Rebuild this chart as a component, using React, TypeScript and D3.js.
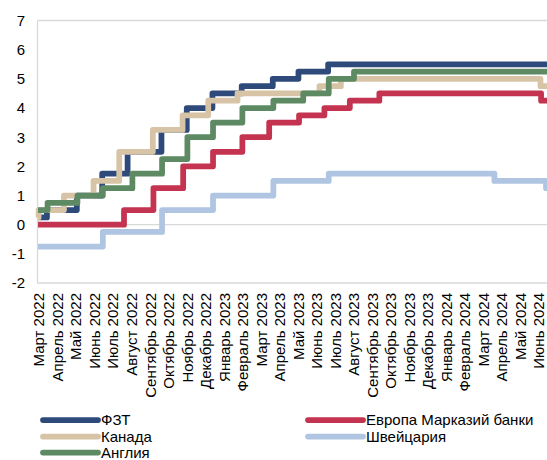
import React from "react";
import * as d3 from "d3";

// Month labels along the category axis (one per month, March 2022 – June 2024)
const monthLabels = [
  "Март 2022", "Апрель 2022", "Май 2022", "Июнь 2022", "Июль 2022", "Август 2022",
  "Сентябрь 2022", "Октябрь 2022", "Ноябрь 2022", "Декабрь 2022", "Январь 2023",
  "Февраль 2023", "Март 2023", "Апрель 2023", "Май 2023", "Июнь 2023", "Июль 2023",
  "Август 2023", "Сентябрь 2023", "Октябрь 2023", "Ноябрь 2023", "Декабрь 2023",
  "Январь 2024", "Февраль 2024", "Март 2024", "Апрель 2024", "Май 2024", "Июнь 2024",
];

const yTicks = [-2, -1, 0, 1, 2, 3, 4, 5, 6, 7];

// Policy rate changes: [date the rate takes effect, rate %]
const fedRates: [string, number][] = [
  ["2022-03-01", 0.25], ["2022-03-16", 0.5], ["2022-05-04", 1.0], ["2022-06-15", 1.75],
  ["2022-07-27", 2.5], ["2022-09-21", 3.25], ["2022-11-02", 4.0], ["2022-12-14", 4.5],
  ["2023-02-01", 4.75], ["2023-03-22", 5.0], ["2023-05-03", 5.25], ["2023-06-21", 5.5],
];
const ecbRates: [string, number][] = [
  ["2022-03-01", 0], ["2022-07-21", 0.5], ["2022-09-08", 1.25], ["2022-10-27", 2.0],
  ["2022-12-15", 2.5], ["2023-02-02", 3.0], ["2023-03-16", 3.5], ["2023-05-04", 3.75],
  ["2023-06-15", 4.0], ["2023-07-27", 4.25], ["2023-09-14", 4.5], ["2024-06-06", 4.25],
];
const canadaRates: [string, number][] = [
  ["2022-03-01", 0.25], ["2022-03-02", 0.5], ["2022-04-13", 1.0], ["2022-06-01", 1.5],
  ["2022-07-13", 2.5], ["2022-09-07", 3.25], ["2022-10-26", 3.75], ["2022-12-07", 4.25],
  ["2023-01-25", 4.5], ["2023-06-07", 4.75], ["2023-07-12", 5.0], ["2024-06-05", 4.75],
];
const swissRates: [string, number][] = [
  ["2022-03-01", -0.75], ["2022-06-16", -0.25], ["2022-09-22", 0.5], ["2022-12-15", 1.0],
  ["2023-03-23", 1.5], ["2023-06-22", 1.75], ["2024-03-21", 1.5], ["2024-06-14", 1.25],
];
const ukRates: [string, number][] = [
  ["2022-03-01", 0.5], ["2022-03-17", 0.75], ["2022-05-05", 1.0], ["2022-06-16", 1.25],
  ["2022-08-04", 1.75], ["2022-09-22", 2.25], ["2022-11-03", 3.0], ["2022-12-15", 3.5],
  ["2023-02-02", 4.0], ["2023-03-23", 4.25], ["2023-05-11", 4.5], ["2023-06-22", 5.0],
  ["2023-08-03", 5.25],
];

const seriesNames = ["ФЗТ", "Европа Марказий банки", "Канада", "Швейцария", "Англия"];
const seriesData = [fedRates, ecbRates, canadaRates, swissRates, ukRates];
const seriesColors = ["#2E4A7B", "#C4334F", "#D7C4A6", "#AFC5E2", "#5D8A63"];

const END_DATE = "2024-06-30";

const W = 547;
const H = 460;
const FONT = "'Liberation Sans', Arial, sans-serif";

// Fractional month position counted from March 2022
function monthPos(s: string): number {
  const [y, m, d] = s.split("-").map(Number);
  const days = new Date(y, m, 0).getDate();
  return (y - 2022) * 12 + (m - 3) + (d - 1) / days;
}

export default function App() {
  const x = d3.scaleLinear().domain([0, monthLabels.length - 1]).range([38, 538]);
  const y = d3.scaleLinear().domain([-2, 7]).range([283, 20.5]);

  const line = d3
    .line<[number, number]>()
    .x((d) => x(d[0]))
    .y((d) => y(d[1]))
    .curve(d3.curveStepAfter);

  const paths = seriesData.map((s) => {
    const pts: [number, number][] = s.map(([dt, v]) => [monthPos(dt), v]);
    pts.push([monthPos(END_DATE), s[s.length - 1][1]]);
    return line(pts) || "";
  });

  const plotLeft = x(0) - 0.5;
  const plotTop = y(7);
  const plotBottom = y(-2);
  const grid = "#D9D9D9";

  const legendRows = [
    { idx: 0, col: 0, row: 0 },
    { idx: 1, col: 1, row: 0 },
    { idx: 2, col: 0, row: 1 },
    { idx: 3, col: 1, row: 1 },
    { idx: 4, col: 0, row: 2 },
  ];
  const legendCols = [43, 308];
  const legendY = [420, 436.5, 452.5];

  return (
    <svg
      width={W}
      height={H}
      style={{ position: "absolute", left: 0, top: 0, background: "#fff" }}
      fontFamily={FONT}
    >
      {/* plot frame */}
      <line x1={plotLeft} x2={W} y1={plotTop} y2={plotTop} stroke={grid} strokeWidth={1.3} />
      <line x1={plotLeft} x2={W} y1={plotBottom} y2={plotBottom} stroke={grid} strokeWidth={1.3} />
      <line x1={plotLeft} x2={plotLeft} y1={plotTop} y2={plotBottom} stroke={grid} strokeWidth={1.3} />
      <line x1={plotLeft} x2={W} y1={y(0)} y2={y(0)} stroke={grid} strokeWidth={1.3} />

      {/* y axis labels */}
      {yTicks.map((t) => (
        <text key={t} x={25} y={y(t)} dy="0.36em" textAnchor="end" fontSize={15} fill="#000">
          {t}
        </text>
      ))}

      {/* x axis labels */}
      {monthLabels.map((m, i) => (
        <text
          key={m}
          transform={`translate(${x(i) + 1},293) rotate(-90)`}
          dy="0.36em"
          textAnchor="end"
          fontSize={15}
          fill="#000"
        >
          {m}
        </text>
      ))}

      {/* rate lines */}
      {paths.map((p, i) => (
        <path
          key={seriesNames[i]}
          d={p}
          fill="none"
          stroke={seriesColors[i]}
          strokeWidth={5.75}
          strokeLinejoin="round"
        />
      ))}

      {/* legend */}
      {legendRows.map(({ idx, col, row }) => (
        <g key={seriesNames[idx]}>
          <line
            x1={legendCols[col]}
            x2={legendCols[col] + 55}
            y1={legendY[row]}
            y2={legendY[row]}
            stroke={seriesColors[idx]}
            strokeWidth={5.75}
            strokeLinecap="round"
          />
          <text x={legendCols[col] + 58} y={legendY[row]} dy="0.36em" fontSize={15} fill="#000">
            {seriesNames[idx]}
          </text>
        </g>
      ))}
    </svg>
  );
}
